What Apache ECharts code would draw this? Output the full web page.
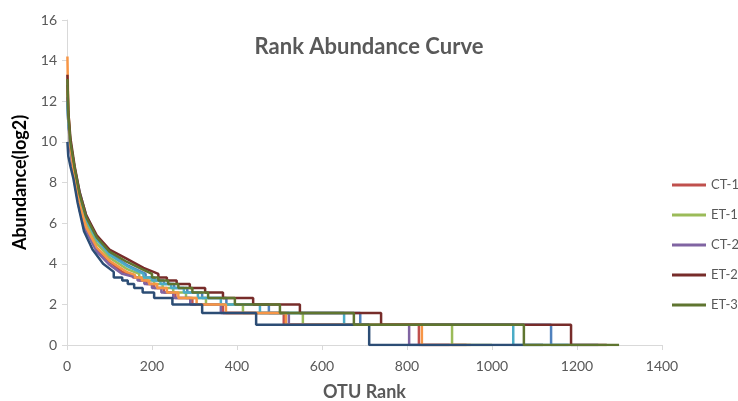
<!DOCTYPE html>
<html>
<head>
<meta charset="utf-8">
<script src="https://cdn.jsdelivr.net/npm/echarts@6/dist/echarts.min.js"></script>
<style>
  html, body { margin: 0; padding: 0; background: #fff; }
  #main { width: 738px; height: 401px; }
</style>
</head>
<body>
<div id="main"></div>
<script>
// log2(abundance) levels of the stair part, top to bottom
var levels = [3.32, 3.17, 3, 2.81, 2.58, 2.32, 2, 1.58, 1, 0];

// series in drawing order (later ones on top)
var names = ['CK-1', 'CT-1', 'ET-1', 'CT-2', 'CK-2', 'CK-3', 'CT-3', 'ET-2', 'ET-3'];
var colors = ['#4F81BD', '#C0504D', '#9BBB59', '#8064A2', '#4BACC6', '#F79646', '#2C4D75', '#772C2A', '#5F7530'];
var legendNames = ['CT-1', 'ET-1', 'CT-2', 'ET-2', 'ET-3'];

// upper (smooth) part: [rank, log2 abundance]
var headCK1 = [[1,11.9],[3,11.0],[8,10.0],[18,8.7],[30,7.5],[45,6.4],[70,5.3],[100,4.5],[140,3.95],[185,3.5]];
var headCT1 = [[1,12.8],[3,11.3],[8,9.7],[18,8.1],[30,6.8],[45,5.7],[70,4.75],[100,4.1],[130,3.6],[155,3.45]];
var headET1 = [[1,12.5],[3,11.2],[8,9.8],[18,8.3],[30,7.0],[45,6.0],[70,5.0],[100,4.3],[140,3.75],[170,3.5]];
var headCT2 = [[1,12.2],[3,11.0],[8,9.6],[18,8.0],[30,6.6],[45,5.6],[70,4.6],[100,3.95],[130,3.5],[150,3.4]];
var headCK2 = [[1,12.0],[3,11.0],[8,9.9],[18,8.5],[30,7.3],[45,6.2],[70,5.2],[100,4.45],[140,3.9],[180,3.5]];
var headCK3 = [[1,14.2],[3,11.6],[8,9.8],[18,8.2],[30,6.9],[45,5.8],[70,4.8],[100,4.15],[140,3.6],[160,3.45]];
var headCT3 = [[1,10.0],[3,9.3],[8,8.8],[15,8.2],[25,7.0],[40,5.6],[60,4.7],[85,4.0],[110,3.6]];
var headET2 = [[1,13.3],[3,11.5],[8,10.2],[18,8.8],[30,7.5],[45,6.4],[70,5.4],[100,4.7],[140,4.25],[180,3.8],[215,3.5]];
var headET3 = [[1,13.1],[3,11.4],[8,10.0],[18,8.7],[30,7.4],[45,6.3],[70,5.3],[100,4.6],[140,4.1],[180,3.7],[200,3.5]];

// last rank of each level in `levels`
var endsCK1 = [206,228,252,283,318,375,475,690,1139,1250];
var endsCT1 = [170,187,205,228,255,295,367,510,828,940];
var endsET1 = [188,205,225,250,280,327,414,555,906,1000];
var endsCT2 = [166,182,200,222,250,290,362,522,805,900];
var endsCK2 = [200,220,245,275,308,362,454,652,1050,1180];
var endsCK3 = [176,193,212,235,262,305,374,515,835,950];
var endsCT3 = [130,143,158,178,205,248,318,445,711,1120];
var endsET2 = [235,258,289,325,367,438,548,739,1186,1270];
var endsET3 = [215,238,262,295,332,395,501,675,1075,1299];

var heads = [headCK1, headCT1, headET1, headCT2, headCK2, headCK3, headCT3, headET2, headET3];
var ends = [endsCK1, endsCT1, endsET1, endsCT2, endsCK2, endsCK3, endsCT3, endsET2, endsET3];

var xTicks = [0, 200, 400, 600, 800, 1000, 1200, 1400];
var yTicks = [0, 2, 4, 6, 8, 10, 12, 14, 16];

function buildCurve(head, end) {
  var pts = head.slice();
  var x = head[head.length - 1][0];
  for (var i = 0; i < levels.length; i++) {
    pts.push([x, levels[i]]);
    pts.push([end[i], levels[i]]);
    x = end[i];
  }
  return pts;
}

var series = names.map(function (n, i) {
  return {
    name: n,
    type: 'line',
    data: buildCurve(heads[i], ends[i]),
    showSymbol: false,
    symbol: 'none',
    lineStyle: { width: 2.5, color: colors[i] },
    itemStyle: { color: colors[i] },
    animation: false
  };
});

var chart = echarts.init(document.getElementById('main'));
chart.setOption({
  backgroundColor: '#fff',
  textStyle: { fontFamily: 'Lato' },
  title: {
    text: 'Rank Abundance Curve',
    left: 'center',
    top: 31,
    textStyle: { fontFamily: 'Lato', fontSize: 22, fontWeight: 'bold', color: '#595959' }
  },
  legend: {
    data: legendNames,
    orient: 'vertical',
    left: 672,
    top: 178,
    padding: 0,
    itemWidth: 34,
    itemHeight: 3,
    itemGap: 16,
    icon: 'rect',
    textStyle: { fontFamily: 'Lato', fontSize: 13, color: '#595959', lineHeight: 14 }
  },
  grid: { left: 67, right: 76, top: 20, bottom: 56, outerBoundsMode: 'none' },
  xAxis: {
    type: 'value',
    min: xTicks[0],
    max: xTicks[xTicks.length - 1],
    interval: 200,
    name: 'OTU Rank',
    nameLocation: 'middle',
    nameGap: 38,
    nameTextStyle: { fontFamily: 'Lato', fontSize: 18, fontWeight: 'bold', color: '#595959' },
    axisLine: { lineStyle: { color: '#D9D9D9', width: 1 } },
    axisTick: { show: true, length: 5, lineStyle: { color: '#D9D9D9' } },
    axisLabel: { color: '#595959', fontSize: 14, margin: 14, formatter: function (v) { return String(v); } },
    splitLine: { show: false }
  },
  yAxis: {
    type: 'value',
    min: yTicks[0],
    max: yTicks[yTicks.length - 1],
    interval: 2,
    name: 'Abundance(log2)',
    nameLocation: 'middle',
    nameGap: 38,
    nameTextStyle: { fontFamily: 'Lato', fontSize: 18, fontWeight: 'bold', color: '#000' },
    axisLine: { show: true, lineStyle: { color: '#D9D9D9', width: 1 } },
    axisTick: { show: true, length: 5, lineStyle: { color: '#D9D9D9' } },
    axisLabel: { color: '#595959', fontSize: 14, margin: 10 },
    splitLine: { show: false }
  },
  series: series
});
</script>
</body>
</html>
